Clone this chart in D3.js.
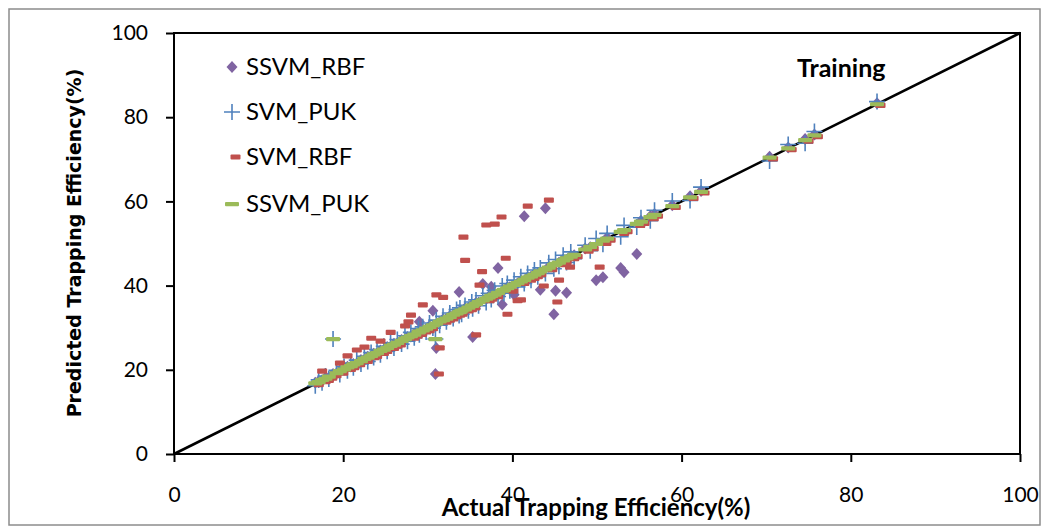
<!DOCTYPE html>
<html>
<head>
<meta charset="utf-8">
<script src="https://cdn.jsdelivr.net/npm/d3@7"></script>
<style>
  body { margin: 0; background: #fff; }
  svg { display: block; }
</style>
</head>
<body>
<div id="chart"></div>
<script>
// actual trapping efficiency (%) — shared by every series
const actual = [
  16.7, 17.1, 17.5, 17.9, 18.3, 18.8, 19.2, 19.6, 20.1, 20.5,
  20.9, 21.2, 21.6, 22.1, 22.5, 22.9, 23.3, 23.6, 24.0, 24.4,
  24.8, 25.2, 25.6, 26.0, 26.4, 26.9, 27.3, 27.6, 28.0, 28.4,
  28.9, 29.0, 29.4, 29.8, 30.2, 30.6, 30.9, 31.0, 31.4, 31.8,
  32.2, 32.6, 33.0, 33.4, 33.7, 33.8, 34.0, 34.4, 34.8, 35.2,
  35.3, 35.7, 36.0, 36.5, 36.9, 37.2, 37.5, 37.9, 38.3, 38.8,
  39.0, 39.4, 39.7, 40.2, 40.6, 41.0, 41.4, 41.8, 42.2, 42.6,
  43.0, 43.3, 43.9, 44.3, 44.9, 45.1, 45.5, 46.0, 46.4, 46.9,
  47.3, 48.6, 49.2, 49.9, 50.7, 51.2, 52.8, 53.2, 54.7, 55.2,
  56.3, 56.8, 58.9, 61.0, 62.3, 70.4, 72.6, 74.6, 75.7, 83.1
];

// predicted values, one array per model
const ssvmRbf = [
  16.9, 17.3, 17.4, 18.1, 18.2, 19.0, 19.1, 19.8, 20.0, 20.7,
  20.8, 21.4, 21.5, 22.3, 22.4, 23.1, 23.2, 23.8, 23.9, 24.6,
  24.7, 25.4, 25.5, 26.2, 26.3, 27.1, 27.2, 27.8, 27.9, 28.6,
  28.8, 31.4, 29.6, 29.7, 30.4, 34.0, 19.0, 25.2, 31.3, 32.0,
  32.1, 32.8, 32.9, 33.6, 38.5, 34.0, 33.9, 34.6, 34.7, 35.4,
  27.8, 35.9, 35.9, 40.4, 36.8, 37.4, 39.7, 38.1, 44.2, 35.5,
  38.9, 39.6, 39.6, 37.8, 40.5, 41.2, 56.5, 42.0, 42.1, 42.8,
  42.9, 39.0, 58.4, 44.5, 33.2, 38.8, 45.4, 46.2, 38.3, 47.1,
  47.2, 48.8, 49.1, 41.3, 42.0, 51.4, 44.2, 43.2, 47.5, 55.4,
  56.5, 57.0, 59.1, 61.2, 62.5, 70.6, 72.8, 74.8, 75.9, 83.3
];
const svmPuk = [
  16.2, 17.6, 16.9, 18.5, 17.8, 27.3, 19.9, 18.9, 20.8, 19.8,
  21.6, 20.5, 22.3, 21.4, 23.2, 22.0, 24.1, 22.9, 24.8, 23.6,
  25.6, 24.4, 26.4, 25.2, 27.2, 26.1, 28.1, 26.8, 28.9, 27.6,
  29.8, 28.3, 30.2, 29.0, 31.1, 29.9, 27.3, 31.8, 30.6, 32.7,
  31.4, 33.5, 32.2, 34.3, 32.9, 34.7, 33.2, 35.3, 34.0, 36.1,
  34.5, 36.6, 35.2, 37.6, 36.0, 38.2, 36.7, 38.9, 37.4, 39.9,
  38.2, 40.5, 38.8, 41.3, 39.7, 42.1, 40.5, 42.9, 41.3, 43.7,
  42.1, 44.2, 42.9, 45.4, 44.0, 46.2, 44.6, 47.2, 45.5, 48.0,
  46.4, 49.6, 48.3, 51.2, 49.8, 52.4, 51.6, 54.3, 53.9, 56.1,
  55.4, 57.9, 60.1, 60.2, 63.4, 69.6, 73.5, 73.8, 76.6, 83.7
];
const svmRbf = [
  16.5, 19.7, 17.2, 17.5, 18.0, 18.6, 21.6, 19.2, 23.3, 20.1,
  20.5, 24.7, 21.2, 25.4, 22.0, 27.5, 22.9, 23.2, 26.8, 23.9,
  24.4, 28.9, 25.1, 25.6, 25.9, 30.4, 31.4, 33.0, 27.5, 28.0,
  28.4, 35.4, 29.0, 29.3, 29.8, 37.8, 19.0, 25.2, 37.2, 31.3,
  31.8, 32.1, 32.6, 33.0, 33.2, 51.5, 46.0, 34.0, 34.3, 34.7,
  28.3, 40.1, 43.3, 54.4, 36.4, 36.8, 54.6, 37.4, 56.3, 46.5,
  33.2, 38.9, 38.7, 36.4, 36.6, 40.5, 58.9, 41.3, 41.7, 42.1,
  42.6, 39.9, 60.3, 43.8, 36.1, 41.3, 45.0, 45.5, 44.4, 46.4,
  46.9, 48.2, 48.8, 44.4, 50.0, 50.8, 52.4, 52.8, 54.3, 54.8,
  55.9, 56.5, 58.6, 60.7, 62.0, 70.1, 72.3, 74.3, 75.4, 82.8
];
const ssvmPuk = [
  16.8, 17.1, 17.6, 17.9, 18.4, 27.3, 19.2, 19.7, 20.1, 20.6,
  20.9, 21.3, 21.6, 22.1, 22.6, 22.9, 23.3, 23.7, 24.0, 24.5,
  24.8, 25.2, 25.7, 26.0, 26.4, 26.9, 27.3, 27.7, 28.0, 28.4,
  28.9, 29.1, 29.4, 29.8, 30.2, 30.6, 27.3, 31.0, 31.5, 31.8,
  32.2, 32.6, 33.1, 33.4, 33.7, 33.8, 34.1, 34.4, 34.8, 35.2,
  35.3, 35.7, 36.1, 36.5, 36.9, 37.2, 37.6, 37.9, 38.3, 38.8,
  39.0, 39.4, 39.8, 40.2, 40.6, 41.0, 41.4, 41.9, 42.2, 42.6,
  43.0, 43.4, 43.9, 44.3, 44.9, 45.2, 45.5, 46.0, 46.5, 46.9,
  47.3, 48.6, 49.2, 49.9, 50.7, 51.2, 52.8, 53.2, 54.7, 55.2,
  56.3, 56.8, 58.9, 61.0, 62.3, 70.4, 72.6, 74.6, 75.7, 83.1
];

const seriesNames = ['SSVM_RBF', 'SVM_PUK', 'SVM_RBF', 'SSVM_PUK'];
const axisTicks = [0, 20, 40, 60, 80, 100];

const W = 1049, H = 527;
const plot = { left: 174, right: 1020, top: 33, bottom: 454 };

const svg = d3.select('#chart').append('svg')
  .attr('width', W).attr('height', H);

svg.append('rect')
  .attr('x', 9).attr('y', 9).attr('width', 1031).attr('height', 516)
  .attr('fill', '#fff').attr('stroke', '#8c8c8c').attr('stroke-width', 1.5);

const x = d3.scaleLinear().domain([0, 100]).range([plot.left, plot.right]);
const y = d3.scaleLinear().domain([0, 100]).range([plot.bottom, plot.top]);

// marker painters
const markers = {
  SSVM_RBF: (g) => g.append('path')
    .attr('d', 'M0,-6L5.5,0L0,6L-5.5,0Z')
    .attr('fill', '#8064A2'),
  SVM_PUK: (g) => g.append('path')
    .attr('d', 'M-8,0H8M0,-8V8')
    .attr('stroke', '#4F81BD').attr('stroke-width', 1.6).attr('fill', 'none'),
  SVM_RBF: (g) => g.append('rect')
    .attr('x', -1.5).attr('y', -2.6).attr('width', 10).attr('height', 5.2).attr('rx', 1)
    .attr('fill', '#C0504D'),
  SSVM_PUK: (g) => g.append('rect')
    .attr('x', -7).attr('y', -2).attr('width', 14).attr('height', 4.2).attr('rx', 1)
    .attr('fill', '#9BBB59')
};

// frame
svg.append('rect')
  .attr('x', plot.left).attr('y', plot.top)
  .attr('width', plot.right - plot.left).attr('height', plot.bottom - plot.top)
  .attr('fill', 'none').attr('stroke', '#000').attr('stroke-width', 2);

// axes
const yAxis = svg.append('g')
  .attr('transform', `translate(${plot.left},0)`)
  .call(d3.axisLeft(y).tickValues(axisTicks).tickSize(8).tickPadding(18).tickSizeOuter(0));
const xAxis = svg.append('g')
  .attr('transform', `translate(0,${plot.bottom})`)
  .call(d3.axisBottom(x).tickValues(axisTicks).tickSize(8).tickPadding(25).tickSizeOuter(0));

[xAxis, yAxis].forEach(a => {
  a.select('.domain').remove();
  a.selectAll('line').attr('stroke', '#000').attr('stroke-width', 2);
  a.selectAll('text')
    .attr('font-family', 'Lato, sans-serif')
    .attr('font-size', 21)
    .attr('fill', '#000');
});

// 1:1 line
svg.append('line')
  .attr('x1', x(0)).attr('y1', y(0)).attr('x2', x(100)).attr('y2', y(100))
  .attr('stroke', '#000').attr('stroke-width', 2.6);

// points, drawn in legend order (SSVM_PUK ends on top)
const seriesValues = [ssvmRbf, svmPuk, svmRbf, ssvmPuk];
seriesNames.forEach((name, si) => {
  const g = svg.append('g');
  actual.forEach((a, i) => {
    const m = g.append('g').attr('transform', `translate(${x(a)},${y(seriesValues[si][i])})`);
    markers[name](m);
  });
});

// legend
const legendY = [67, 112, 157, 204];
seriesNames.forEach((name, i) => {
  const row = svg.append('g').attr('transform', `translate(232,${legendY[i]})`);
  markers[name](row);
  row.append('text')
    .attr('x', 14).attr('y', 8)
    .attr('font-family', 'Lato, sans-serif')
    .attr('font-size', 24)
    .text(name);
});

svg.append('text')
  .attr('x', 797).attr('y', 77)
  .attr('font-family', 'Lato, sans-serif')
  .attr('font-weight', 'bold')
  .attr('font-size', 25)
  .text('Training');

svg.append('text')
  .attr('x', 596).attr('y', 516)
  .attr('text-anchor', 'middle')
  .attr('font-family', 'Lato, sans-serif')
  .attr('font-weight', 'bold')
  .attr('font-size', 24)
  .text('Actual Trapping Efficiency(%)');

svg.append('text')
  .attr('transform', 'translate(81,243) rotate(-90)')
  .attr('text-anchor', 'middle')
  .attr('font-family', '"DejaVu Sans", sans-serif')
  .attr('font-weight', 'bold')
  .attr('font-size', 19)
  .text('Predicted Trapping Efficiency(%)');
</script>
</body>
</html>
